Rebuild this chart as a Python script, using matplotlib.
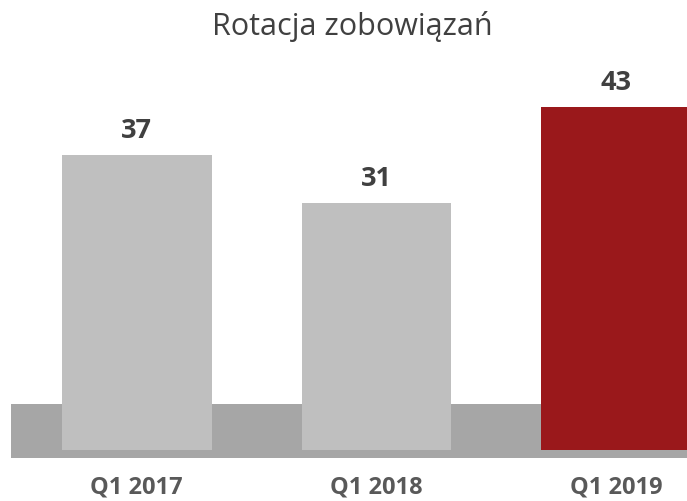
import matplotlib
matplotlib.use("Agg")
from matplotlib import pyplot as plt

# chart data
quarters = ['Q1 2017', 'Q1 2018', 'Q1 2019']
values = [37, 31, 43]
bar_colors = ['#bfbfbf', '#bfbfbf', '#9a181b']

plt.rcParams['font.family'] = ['Open Sans', 'DejaVu Sans']

fig = plt.figure(figsize=(6.87, 5.02), dpi=100)
ax = fig.add_axes([0, 43 / 502, 1, 1 - 43 / 502])

x = list(range(len(quarters)))
bars = ax.bar(x, values, width=0.625, color=bar_colors, zorder=2)

# grey "floor" behind the bars
ax.axhspan(-1.0, 5.77, xmin=11 / 687, xmax=1, color='#a6a6a6', zorder=1, lw=0)

ax.set_xlim(-0.569, 2.294)
ax.set_ylim(-1.0, 56.6)

for xi, v in zip(x, values):
    ax.annotate(str(v), (xi, v), xytext=(0, 9), textcoords='offset points',
                ha='center', va='bottom', fontsize=19.5, fontweight='bold', color='#404040')

ax.set_xticks(x)
ax.set_xticklabels(quarters, fontsize=17, fontweight='bold', color='#595959')
ax.tick_params(axis='x', length=0, pad=12)
ax.set_yticks([])
for s in ax.spines.values():
    s.set_visible(False)

fig.text(352 / 687, 1 - 26 / 502, 'Rotacja zobowiązań', ha='center', va='center',
         fontsize=22, color='#404040')

fig.savefig('out.png', dpi=100)
